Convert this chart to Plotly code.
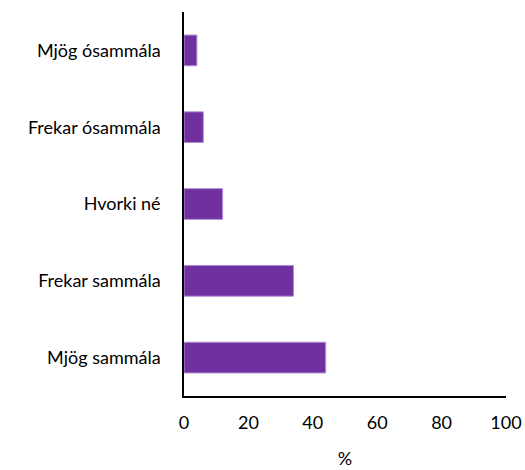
import plotly.graph_objects as go

categories = ["Mjög sammála", "Frekar sammála", "Hvorki né", "Frekar ósammála", "Mjög ósammála"]
values = [44, 34, 12, 6, 4]
x_ticks = [0, 20, 40, 60, 80, 100]

fig = go.Figure(go.Bar(
    x=values, y=categories, orientation="h",
    marker=dict(color="#7030A0", line=dict(color="#b48fd6", width=1)),
    width=0.4,
))

font = dict(family="Lato, Carlito, Open Sans, sans-serif", size=18, color="#000000")
fig.update_layout(
    width=525, height=470,
    margin=dict(l=184, r=19, t=12, b=74),
    plot_bgcolor="white", paper_bgcolor="white",
    showlegend=False,
    font=font,
    xaxis=dict(range=[0, 100], tickvals=x_ticks, showgrid=False, zeroline=False,
               showline=True, linecolor="black", linewidth=1.5, ticks="",
               ticklabelstandoff=10, automargin=False,
               title=dict(text="%", font=font, standoff=20), tickfont=font),
    yaxis=dict(showgrid=False, zeroline=False, showline=True, linecolor="black",
               linewidth=1.5, ticks="", ticklabelstandoff=18, automargin=False,
               tickfont=font, categoryorder="array", categoryarray=categories),
)
fig.write_html("out.html", config={"displayModeBar": False},
               post_script="document.body.style.margin='0';")
